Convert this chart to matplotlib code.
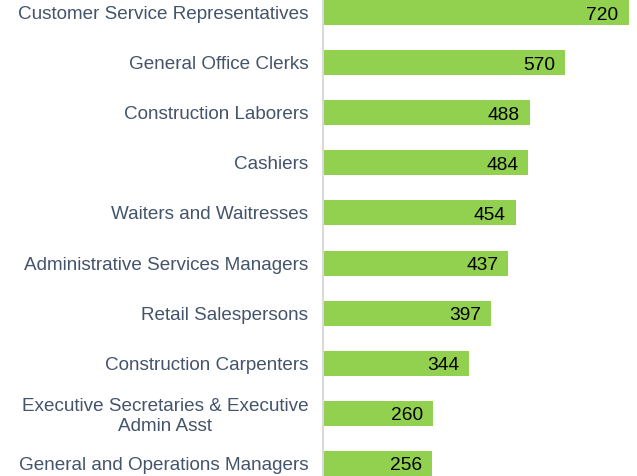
import matplotlib.pyplot as plt

jobs = ['Customer Service Representatives', 'General Office Clerks', 'Construction Laborers',
        'Cashiers', 'Waiters and Waitresses', 'Administrative Services Managers',
        'Retail Salespersons', 'Construction Carpenters',
        'Executive Secretaries & Executive\nAdmin Asst', 'General and Operations Managers']
counts = [720, 570, 488, 484, 454, 437, 397, 344, 260, 256]

plt.rcParams['font.family'] = ['Liberation Sans', 'DejaVu Sans']

fig = plt.figure(figsize=(6.37, 4.76), dpi=100)
ax = fig.add_axes([323 / 637, 0, 314 / 637, 1])

pos = list(range(len(jobs)))
ax.barh(pos, counts, height=0.5, color='#92D050')

# value labels sit inside the bar, near its end
for p, c in zip(pos, counts):
    ax.text(c - 740 * 10 / 314, p + 0.05, str(c), ha='right', va='center', fontsize=13.8, color='black')

ax.set_xlim(0, 740)
ax.set_ylim(9.25, -0.25)
ax.set_yticks(pos)
ax.set_yticklabels(jobs, fontsize=13.6, color='#44546A', linespacing=1.2)
ax.tick_params(axis='y', length=0, pad=10.5)
ax.set_xticks([])
for s in ['top', 'right', 'bottom']:
    ax.spines[s].set_visible(False)
ax.spines['left'].set_color('#D9D9D9')
ax.spines['left'].set_linewidth(1.5)
for lbl in ax.get_yticklabels():
    lbl.set_multialignment('center')

fig.savefig('out.png', dpi=100)
